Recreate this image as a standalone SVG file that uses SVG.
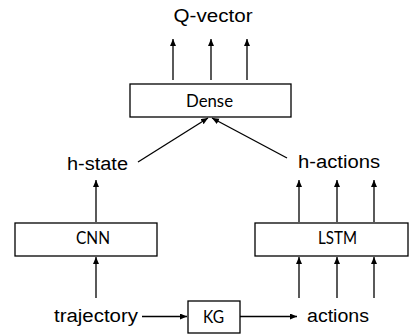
<svg xmlns="http://www.w3.org/2000/svg" width="409" height="335" viewBox="0 0 409 335">
<style>
.box{fill:#fff;stroke:#000;stroke-width:1.3}
.bl{font-family:Lato,"Liberation Sans",sans-serif;font-size:18px;fill:#000}
.lbl{font-family:"Liberation Sans",Arial,sans-serif;font-size:18px;fill:#000}
.c line{stroke:#000;stroke-width:1.3;marker-end:url(#ah)}
</style>
<defs>
<marker id="ah" markerUnits="userSpaceOnUse" markerWidth="8" markerHeight="8" refX="7" refY="3" orient="auto">
<path d="M0,0 L7,3 L0,6 Z" fill="#000"/>
</marker>
</defs>
<text class="lbl" x="173.5" y="22" textLength="79" lengthAdjust="spacingAndGlyphs">Q-vector</text>
<g id="dense"><rect class="box" x="130" y="84" width="161" height="33"/><text class="bl" x="186" y="107" textLength="47" lengthAdjust="spacingAndGlyphs">Dense</text></g>
<text class="lbl" x="67" y="170" textLength="61" lengthAdjust="spacingAndGlyphs">h-state</text>
<text class="lbl" x="298" y="168" textLength="82" lengthAdjust="spacingAndGlyphs">h-actions</text>
<g id="cnn"><rect class="box" x="15" y="223" width="142" height="33"/><text class="bl" x="76" y="244" textLength="34" lengthAdjust="spacingAndGlyphs">CNN</text></g>
<g id="lstm"><rect class="box" x="255" y="223" width="153" height="33"/><text class="bl" x="318" y="244" textLength="39" lengthAdjust="spacingAndGlyphs">LSTM</text></g>
<text class="lbl" x="54" y="322" textLength="84" lengthAdjust="spacingAndGlyphs">trajectory</text>
<g id="kg"><rect class="box" x="188" y="301" width="52" height="32"/><text class="bl" x="203" y="323" textLength="21" lengthAdjust="spacingAndGlyphs">KG</text></g>
<text class="lbl" x="307" y="322" textLength="62" lengthAdjust="spacingAndGlyphs">actions</text>
<g class="c" id="connectors">
<line x1="173" y1="80" x2="173" y2="39"/>
<line x1="211" y1="80" x2="211" y2="39"/>
<line x1="247" y1="80" x2="247" y2="39"/>
<line x1="138" y1="162" x2="208" y2="118"/>
<line x1="287" y1="158" x2="212" y2="118"/>
<line x1="96" y1="222" x2="96" y2="180"/>
<line x1="299" y1="222" x2="299" y2="180"/>
<line x1="337" y1="222" x2="337" y2="180"/>
<line x1="374" y1="222" x2="374" y2="180"/>
<line x1="96" y1="298" x2="96" y2="257"/>
<line x1="299" y1="298" x2="299" y2="257"/>
<line x1="337" y1="298" x2="337" y2="257"/>
<line x1="374" y1="298" x2="374" y2="257"/>
<line x1="142" y1="316.5" x2="187" y2="316.5"/>
<line x1="240" y1="316.5" x2="297" y2="316.5"/>
</g>
</svg>
